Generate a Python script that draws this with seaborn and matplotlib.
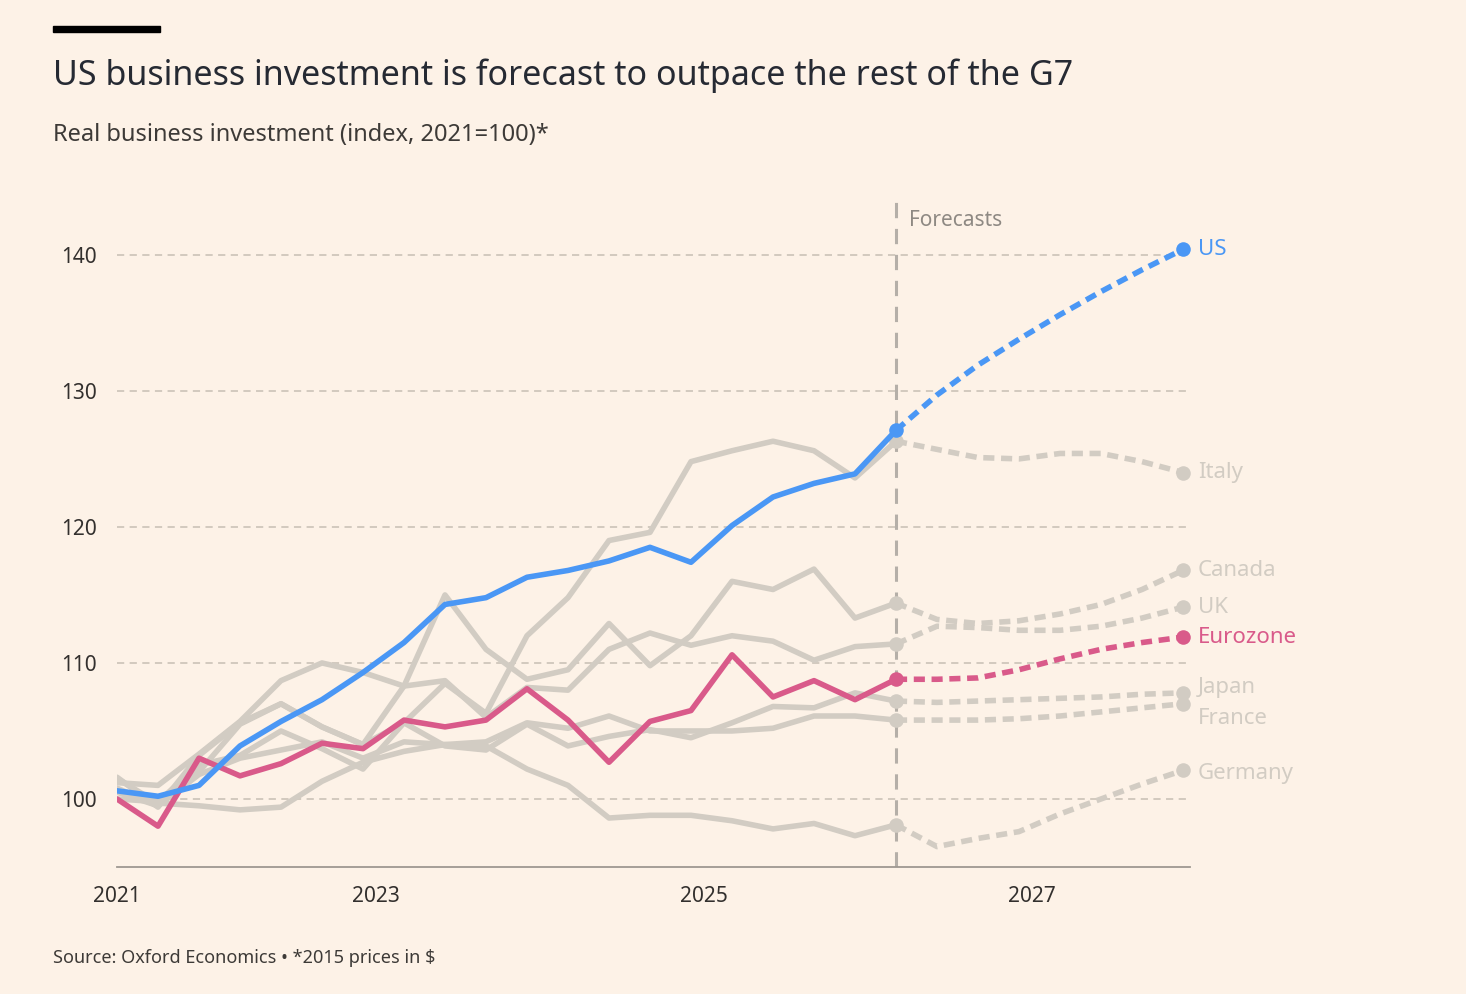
import matplotlib
matplotlib.use("Agg")
import matplotlib.pyplot as plt
import seaborn as sns
import numpy as np
import pandas as pd

sns.set_theme(style="white")
plt.rcParams['font.family'] = ['Noto Sans', 'DejaVu Sans']

t0 = 2021.42
countries = ["US", "Italy", "Canada", "UK", "Eurozone", "Japan", "France", "Germany"]
hist = {
    "US": [100.6,100.2,101,103.9,105.7,107.3,109.3,111.5,114.3,114.8,116.3,116.8,117.5,118.5,117.4,120.1,122.2,123.2,123.9,127.1],
    "Italy": [101.6,99.4,103.2,105.6,107,105.3,104,105.6,108.5,106.3,112,114.8,119,119.6,124.8,125.6,126.3,125.6,123.6,126.3],
    "Canada": [101.2,101.0,103.3,105.7,108.7,110.0,109.3,108.3,115.0,111.0,108.8,109.5,112.9,109.8,112,116,115.4,116.9,113.3,114.4],
    "UK": [100.5,99.5,102,105.5,107,105.3,104,108.3,108.7,106,108.2,108,111,112.2,111.3,112,111.6,110.2,111.2,111.4],
    "Eurozone": [100,98.0,103.0,101.7,102.6,104.1,103.7,105.8,105.3,105.8,108.1,105.8,102.7,105.7,106.5,110.6,107.5,108.7,107.3,108.8],
    "Japan": [100,99.8,102.5,103.2,105,103.7,102.2,105.6,103.9,103.6,105.5,103.9,104.6,105.1,104.5,105.6,106.8,106.7,107.8,107.2],
    "France": [100.8,99.5,101.8,103,103.6,104.2,103.0,104.2,104,104.2,105.6,105.2,106.1,105,105,105,105.2,106.1,106.1,105.8],
    "Germany": [101.5,99.7,99.5,99.2,99.4,101.3,102.7,103.5,104,103.9,102.2,101,98.6,98.8,98.8,98.4,97.8,98.2,97.3,98.1],
}
fcst = {
    "US": [127.1,129.7,131.9,133.8,135.6,137.3,138.9,140.4],
    "Italy": [126.3,125.7,125.1,125.0,125.4,125.4,124.8,124.0],
    "Canada": [114.4,113.2,112.9,113.1,113.6,114.3,115.4,116.8],
    "UK": [111.4,112.7,112.6,112.4,112.4,112.7,113.3,114.1],
    "Eurozone": [108.8,108.8,108.9,109.5,110.3,111.0,111.5,111.9],
    "Japan": [107.2,107.1,107.2,107.3,107.4,107.5,107.7,107.8],
    "France": [105.8,105.8,105.8,105.9,106.1,106.4,106.7,107.0],
    "Germany": [98.1,96.5,97.1,97.6,98.9,100.0,101.1,102.1],
}
label_y = {"US": 140.4, "Italy": 124.0, "Canada": 116.8, "UK": 114.1, "Eurozone": 111.9,
           "Japan": 108.2, "France": 105.9, "Germany": 101.9}

BG = "#FDF2E7"
GREY = "#D2CCC3"
colors = {c: GREY for c in countries}
colors["US"] = "#4A97F5"
colors["Eurozone"] = "#D95A8A"

rows = []
for c in countries:
    for i, v in enumerate(hist[c]):
        rows.append((c, t0 + 0.25 * i, v, "hist"))
    for i, v in enumerate(fcst[c]):
        rows.append((c, t0 + 0.25 * (19 + i), v, "fcst"))
df = pd.DataFrame(rows, columns=["country", "x", "y", "kind"])

fig = plt.figure(figsize=(14.66, 9.94), dpi=100, facecolor=BG)
ax = fig.add_axes([117/1466, 1-867/994, (1190-117)/1466, (867-195)/994])
ax.set_facecolor(BG)

order = ["Germany", "France", "Japan", "UK", "Canada", "Italy", "Eurozone", "US"]
for z, c in enumerate(order):
    h = df[(df.country == c) & (df.kind == "hist")]
    f = df[(df.country == c) & (df.kind == "fcst")]
    sns.lineplot(data=h, x="x", y="y", ax=ax, color=colors[c], lw=4, zorder=3+z, legend=False)
    sns.lineplot(data=f, x="x", y="y", ax=ax, color=colors[c], lw=4, zorder=3+z,
                 dashes=False, linestyle=(0, (2, 1.2)), legend=False)
    ax.scatter([f.x.iloc[0], f.x.iloc[-1]], [f.y.iloc[0], f.y.iloc[-1]], s=110,
               color=colors[c], zorder=3+z, linewidths=0)
    ax.text(f.x.iloc[-1] + 0.09, label_y[c], c, color=colors[c], fontsize=16,
            va="center", ha="left", fontweight="medium" if c in ("US", "Eurozone") else "normal")

xf = t0 + 0.25 * 19
ax.axvline(xf, color="#B5AFA8", lw=2.2, ls=(0, (5, 3.5)), zorder=2)
ax.text(xf + 0.08, 142.5, "Forecasts", color="#8E8983", fontsize=15, va="center", ha="left")

ax.set_xlim(t0, t0 + (1190-117)/164)
ax.set_ylim(95, 144.4)
ax.set_yticks([100, 110, 120, 130, 140])
for yv in [100, 110, 120, 130, 140]:
    ax.axhline(yv, color="#CFC6BB", lw=1.3, ls=(0, (4, 3)), zorder=1)
ax.set_xticks([t0, 2023.0, 2025.0, 2027.0])
ax.set_xticklabels(["2021", "2023", "2025", "2027"])
ax.set_xlabel(""); ax.set_ylabel("")
for s in ["top", "right", "left"]:
    ax.spines[s].set_visible(False)
ax.spines["bottom"].set_color("#9E9891")
ax.spines["bottom"].set_linewidth(1.3)
ax.tick_params(axis="x", length=8, width=1.3, color="#9E9891", labelsize=15, labelcolor="#33302E", pad=6)
ax.tick_params(axis="y", length=0, labelsize=15, labelcolor="#33302E", pad=40)
for lab in ax.get_yticklabels():
    lab.set_horizontalalignment("left")

fig.patches.append(plt.Rectangle((53/1466, 1-32/994), 107/1466, 6/994, transform=fig.transFigure,
                                 color="black", figure=fig))
fig.text(53/1466, 1-76/994, "US business investment is forecast to outpace the rest of the G7",
         fontsize=24.5, color="#262A33", va="center", ha="left")
fig.text(53/1466, 1-135/994, "Real business investment (index, 2021=100)*",
         fontsize=17, color="#3D3A37", va="center", ha="left")
fig.text(53/1466, 1-958/994, "Source: Oxford Economics • *2015 prices in $",
         fontsize=13, color="#3D3A37", va="center", ha="left")

fig.savefig("out.png", dpi=100, facecolor=BG)
